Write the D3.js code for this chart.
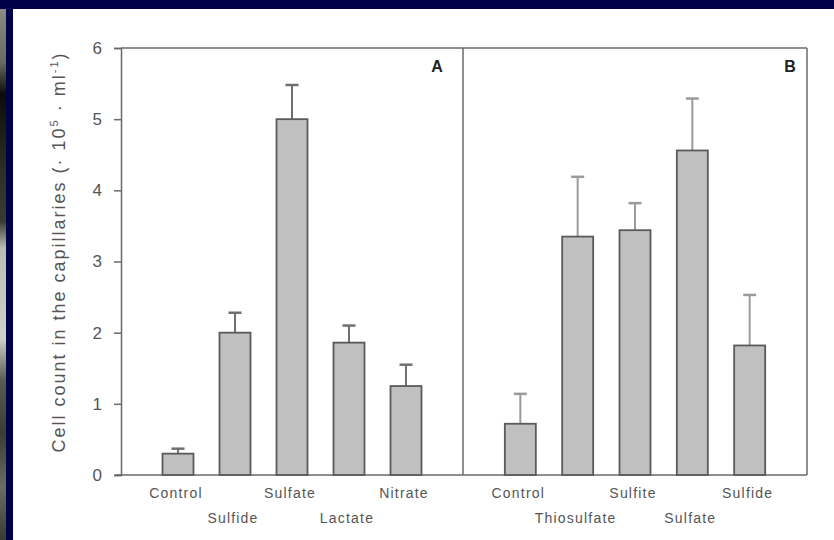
<!DOCTYPE html>
<html lang="en">
<head>
  <meta charset="utf-8">
  <title>Cell count in the capillaries</title>
  <script src="https://cdn.jsdelivr.net/npm/d3@7"></script>
  <style>
    body { margin: 0; background: #fff; }
    svg { display: block; }
  </style>
</head>
<body>
<script>
  // panel A - electron donors/acceptors, panel B - sulfur compounds
  var catsA = ["Control", "Sulfide", "Sulfate", "Lactate", "Nitrate"];
  var meanA = [0.30, 2.00, 5.00, 1.86, 1.25];
  var errA  = [0.07, 0.28, 0.48, 0.24, 0.30];

  var catsB = ["Control", "Thiosulfate", "Sulfite", "Sulfate", "Sulfide"];
  var meanB = [0.72, 3.35, 3.44, 4.56, 1.82];
  var errB  = [0.42, 0.84, 0.38, 0.73, 0.71];

  var yTicks = [0, 1, 2, 3, 4, 5, 6];

  var W = 834, H = 540;
  var font = "Liberation Sans, Arial, sans-serif";
  var svg = d3.select("body").append("svg").attr("width", W).attr("height", H);

  // slide background: photo strip at far left, navy border
  var defs = svg.append("defs");
  var grad = defs.append("linearGradient").attr("id", "strip")
      .attr("x1", 0).attr("y1", 0).attr("x2", 0).attr("y2", 1);
  [[0, "#8a8a84"], [0.1, "#6a6a62"], [0.16, "#0c0c0a"], [0.3, "#2e2c26"],
   [0.4, "#3a3a34"], [0.45, "#bcbcb6"], [0.62, "#d0d0cc"], [0.7, "#5a5a54"],
   [0.8, "#3c3c36"], [0.9, "#6c6c66"], [1, "#3a3a34"]].forEach(function(s) {
    grad.append("stop").attr("offset", s[0]).attr("stop-color", s[1]);
  });
  svg.append("rect").attr("width", W).attr("height", H).attr("fill", "#000048");
  svg.append("rect").attr("x", 0).attr("y", 9).attr("width", 6).attr("height", H - 9)
      .attr("fill", "url(#strip)");
  svg.append("rect").attr("x", 13).attr("y", 9).attr("width", W - 13).attr("height", H - 9)
      .attr("fill", "#fff");

  // plot box (names avoid window.top)
  var pLeft = 121, pMid = 463, pRight = 807, pTop = 48, pBottom = 475;
  var frame = "#6a6a6a", txt = "#555";

  var y = d3.scaleLinear().domain([0, 6]).range([pBottom, pTop]);
  var xA = d3.scalePoint().domain(catsA).range([pLeft, pMid]).padding(1);
  var xB = d3.scalePoint().domain(catsB).range([pMid, pRight]).padding(1);
  var barW = 31, capW = 13;

  // y axis
  var yAxis = svg.append("g").attr("transform", "translate(" + pLeft + ",0)")
      .call(d3.axisLeft(y).tickValues(yTicks).tickFormat(d3.format("d")).tickSize(7).tickPadding(12));
  yAxis.select(".domain").attr("stroke", frame).attr("stroke-width", 1.5);
  yAxis.selectAll(".tick line").attr("stroke", frame).attr("stroke-width", 1.5);
  yAxis.selectAll(".tick text").attr("fill", txt)
      .style("font-family", font).style("font-size", "17px");

  // frame: top, right, divider, baseline
  var fg = svg.append("g").attr("stroke", frame).attr("stroke-width", 1.5).attr("fill", "none");
  fg.append("line").attr("x1", pLeft).attr("x2", pRight).attr("y1", y(6)).attr("y2", y(6));
  fg.append("line").attr("x1", pRight).attr("x2", pRight).attr("y1", y(6)).attr("y2", y(0));
  fg.append("line").attr("x1", pMid).attr("x2", pMid).attr("y1", y(6)).attr("y2", y(0));
  fg.append("line").attr("x1", pLeft - 6).attr("x2", pRight).attr("y1", y(0)).attr("y2", y(0));

  function panel(cats, means, errs, x, errColor, tag, tagX) {
    var g = svg.append("g");
    var data = cats.map(function(c, i) { return { c: c, m: means[i], e: errs[i], i: i }; });

    g.selectAll(".err").data(data).enter().append("line")
        .attr("x1", function(d) { return x(d.c); }).attr("x2", function(d) { return x(d.c); })
        .attr("y1", function(d) { return y(d.m); }).attr("y2", function(d) { return y(d.m + d.e); })
        .attr("stroke", errColor).attr("stroke-width", 2);
    g.selectAll(".cap").data(data).enter().append("line")
        .attr("x1", function(d) { return x(d.c) - capW / 2; })
        .attr("x2", function(d) { return x(d.c) + capW / 2; })
        .attr("y1", function(d) { return y(d.m + d.e); }).attr("y2", function(d) { return y(d.m + d.e); })
        .attr("stroke", errColor).attr("stroke-width", 2.5);

    g.selectAll(".bar").data(data).enter().append("rect")
        .attr("x", function(d) { return x(d.c) - barW / 2; })
        .attr("y", function(d) { return y(d.m); })
        .attr("width", barW)
        .attr("height", function(d) { return y(0) - y(d.m); })
        .attr("fill", "#c0c0c0").attr("stroke", "#5a5a5a").attr("stroke-width", 1.8);

    // staggered category labels
    g.selectAll(".lbl").data(data).enter().append("text")
        .attr("x", function(d) { return x(d.c) - 2; })
        .attr("y", function(d) { return d.i % 2 ? 523 : 498; })
        .attr("text-anchor", "middle").attr("fill", txt)
        .style("font-family", font).style("font-size", "14px").style("letter-spacing", "1.2px")
        .text(function(d) { return d.c; });

    g.append("text").attr("x", tagX).attr("y", 72).attr("text-anchor", "middle")
        .attr("fill", "#222").style("font-family", font)
        .style("font-size", "16px").style("font-weight", "bold").text(tag);
  }

  panel(catsA, meanA, errA, xA, "#707070", "A", 437);
  panel(catsB, meanB, errB, xB, "#9a9a9a", "B", 790);

  // y axis title
  var title = svg.append("text")
      .attr("transform", "translate(65,252) rotate(-90)")
      .attr("text-anchor", "middle").attr("fill", txt)
      .style("font-family", font).style("font-size", "18px").style("letter-spacing", "2px");
  title.append("tspan").text("Cell count in the capillaries (· 10");
  title.append("tspan").attr("dy", -7).style("font-size", "11px").text("5");
  title.append("tspan").attr("dy", 7).text(" · ml");
  title.append("tspan").attr("dy", -7).style("font-size", "11px").text("-1");
  title.append("tspan").attr("dy", 7).text(")");
</script>
</body>
</html>
